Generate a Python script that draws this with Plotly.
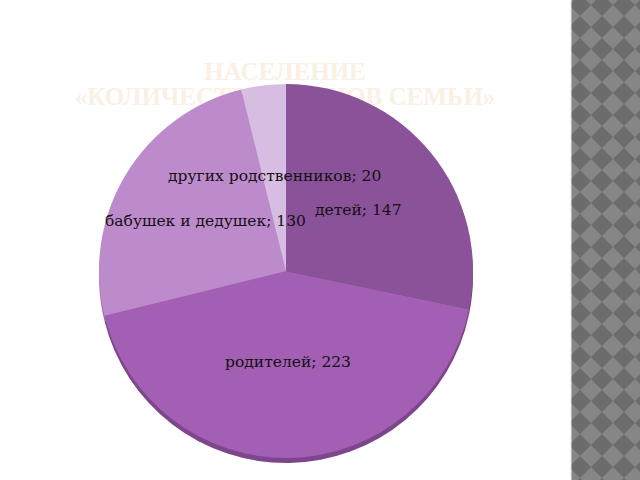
import math
import plotly.graph_objects as go

# ---- data ----
categories = ["детей", "родителей", "бабушек и дедушек", "других родственников"]
values = [147, 223, 130, 20]
title_line1 = "НАСЕЛЕНИЕ"
title_line2 = "«КОЛИЧЕСТВО ЧЛЕНОВ СЕМЬИ»"

# ---- style ----
slice_colors = ["#8A5299", "#A25FB3", "#BD8BCB", "#D7BDE2"]
shadow_colors = ["#6C3D78", "#7D468C", "#9A6DA8", "#B49BBE"]
W, H = 640, 480
cx_px, cy_px, r_px = 286, 271, 187
shadow_dy = 5

def domain(dy=0):
    return dict(
        x=[(cx_px - r_px) / W, (cx_px + r_px) / W],
        y=[(H - (cy_px + dy) - r_px) / H, (H - (cy_px + dy) + r_px) / H],
    )

fig = go.Figure()
fig.add_trace(go.Pie(
    labels=categories, values=values, sort=False, direction="clockwise", rotation=0,
    marker=dict(colors=shadow_colors, line=dict(width=0)),
    textinfo="none", hoverinfo="skip", showlegend=False, domain=domain(shadow_dy),
))
fig.add_trace(go.Pie(
    labels=categories, values=values, sort=False, direction="clockwise", rotation=0,
    marker=dict(colors=slice_colors, line=dict(width=0)),
    textinfo="none", showlegend=False, domain=domain(0),
))

# labels at half radius along each slice's mid-angle
total = sum(values)
acc = 0
annotations = []
for cat, v in zip(categories, values):
    mid = (acc + v / 2) / total * 2 * math.pi
    acc += v
    x = cx_px + 0.5 * r_px * math.sin(mid)
    y = (cy_px - 2) - 0.5 * r_px * math.cos(mid)
    annotations.append(dict(
        x=x / W, y=(H - y) / H, xref="paper", yref="paper",
        text=f"{cat}; {v}", showarrow=False, xanchor="center", yanchor="middle",
        font=dict(family="DejaVu Serif", size=15.5, color="#141014"),
    ))

shapes = []
# faint title drawn below the pie
for txt, yc in [(title_line1, 68), (title_line2, 93)]:
    shapes.append(dict(
        type="rect", xref="paper", yref="paper", layer="below",
        x0=(285 - 260) / W, x1=(285 + 260) / W, y0=(H - yc - 13) / H, y1=(H - yc + 13) / H,
        line=dict(width=0), fillcolor="rgba(0,0,0,0)",
        label=dict(text=f"<b>{txt}</b>", textposition="middle center",
                   font=dict(family="Liberation Serif", size=25, color="#FAF0E4")),
    ))

# right decorative strip with diamond pattern
strip_x0 = 571
shapes.append(dict(type="rect", xref="paper", yref="paper", layer="below",
                   x0=strip_x0 / W, x1=1, y0=0, y1=1, line=dict(width=0), fillcolor="#868686"))
h = 11
path = []
yv = 5
while yv - h < H:
    xv = 580
    while xv - h < W:
        pts = [(xv, yv - h), (xv + h, yv), (xv, yv + h), (xv - h, yv)]
        path.append("M " + " L ".join(f"{p[0] / W:.5f},{(H - p[1]) / H:.5f}" for p in pts) + " Z")
        xv += 2 * h
    yv += 2 * h
shapes.append(dict(type="path", xref="paper", yref="paper", layer="below",
                   path=" ".join(path), line=dict(width=0), fillcolor="#6C6C6C"))
shapes.append(dict(type="rect", xref="paper", yref="paper", layer="below",
                   x0=(strip_x0 - 30) / W, x1=strip_x0 / W, y0=0, y1=1,
                   line=dict(width=0), fillcolor="#FFFFFF"))
shapes.append(dict(type="line", xref="paper", yref="paper", layer="below",
                   x0=strip_x0 / W, x1=strip_x0 / W, y0=0, y1=1,
                   line=dict(width=1, color="#E8E8E8")))

fig.update_layout(
    width=W, height=H, margin=dict(l=0, r=0, t=0, b=0),
    paper_bgcolor="white", plot_bgcolor="white",
    annotations=annotations, shapes=shapes, showlegend=False,
)
fig.write_html(
    "out.html",
    config={"displayModeBar": False},
    post_script="document.body.style.margin='0';document.body.style.overflow='hidden';",
)
